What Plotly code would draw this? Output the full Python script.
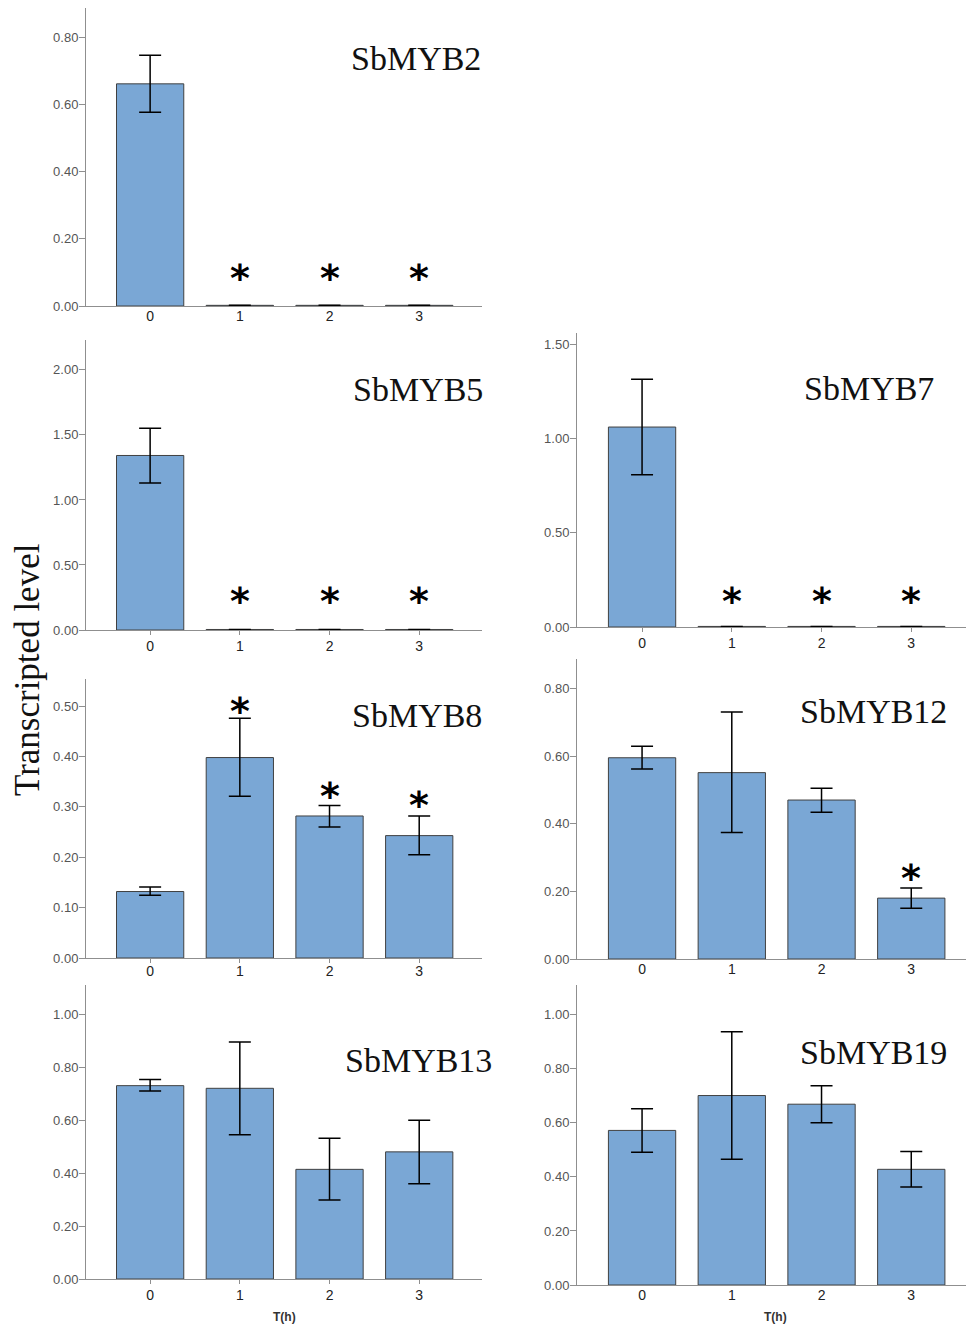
import plotly.graph_objects as go

# target picture is 966x1325; the capture maps a 1333 px tall page onto it,
# so the figure is laid out in 1325-px reference units but drawn 1333 px tall.
REF_W, REF_H = 966, 1325
W, H = 966, 1333

hours = [0, 1, 2, 3]
hour_labels = ["0", "1", "2", "3"]

genes = ["SbMYB2", "SbMYB5", "SbMYB7", "SbMYB8", "SbMYB12", "SbMYB13", "SbMYB19"]

mean_myb2 = [0.662, 0.002, 0.002, 0.002]
upper_myb2 = [0.747, 0.002, 0.002, 0.002]
lower_myb2 = [0.577, 0.002, 0.002, 0.002]
star_myb2 = [None, 0.102, 0.102, 0.102]

mean_myb5 = [1.342, 0.004, 0.004, 0.004]
upper_myb5 = [1.551, 0.004, 0.004, 0.004]
lower_myb5 = [1.130, 0.004, 0.004, 0.004]
star_myb5 = [None, 0.268, 0.268, 0.268]

mean_myb7 = [1.061, 0.003, 0.003, 0.003]
upper_myb7 = [1.314, 0.003, 0.003, 0.003]
lower_myb7 = [0.808, 0.003, 0.003, 0.003]
star_myb7 = [None, 0.168, 0.168, 0.168]

mean_myb8 = [0.132, 0.398, 0.282, 0.243]
upper_myb8 = [0.141, 0.476, 0.303, 0.282]
lower_myb8 = [0.1245, 0.321, 0.260, 0.205]
star_myb8 = [None, 0.503, 0.333, 0.315]

mean_myb12 = [0.595, 0.551, 0.470, 0.180]
upper_myb12 = [0.629, 0.730, 0.505, 0.210]
lower_myb12 = [0.562, 0.374, 0.434, 0.150]
star_myb12 = [None, None, None, 0.256]

mean_myb13 = [0.730, 0.720, 0.414, 0.480]
upper_myb13 = [0.753, 0.895, 0.531, 0.599]
lower_myb13 = [0.710, 0.545, 0.298, 0.360]
star_myb13 = [None, None, None, None]

mean_myb19 = [0.572, 0.701, 0.669, 0.428]
upper_myb19 = [0.652, 0.937, 0.737, 0.494]
lower_myb19 = [0.491, 0.465, 0.600, 0.363]
star_myb19 = [None, None, None, None]

y_tops = [0.888, 2.23, 1.56, 0.554, 0.887, 1.11, 1.11]
y_dticks = [0.2, 0.5, 0.5, 0.1, 0.2, 0.2, 0.2]

panels = [
    (mean_myb2, upper_myb2, lower_myb2, star_myb2),
    (mean_myb5, upper_myb5, lower_myb5, star_myb5),
    (mean_myb7, upper_myb7, lower_myb7, star_myb7),
    (mean_myb8, upper_myb8, lower_myb8, star_myb8),
    (mean_myb12, upper_myb12, lower_myb12, star_myb12),
    (mean_myb13, upper_myb13, lower_myb13, star_myb13),
    (mean_myb19, upper_myb19, lower_myb19, star_myb19),
]

# layout geometry in reference pixels: (left, right, top, bottom)
px_boxes = [
    (86, 482, 8, 306),
    (86, 482, 340, 630),
    (577, 966, 333, 627),
    (86, 482, 679, 958),
    (577, 966, 659, 959),
    (86, 482, 985, 1279),
    (577, 966, 985, 1285),
]
x_ranges = [(-0.715, 3.70), (-0.715, 3.70), (-0.725, 3.61), (-0.715, 3.70),
            (-0.725, 3.61), (-0.715, 3.70), (-0.725, 3.61)]
x_ticklen = [0, 4, 4, 4, 0, 4, 0]
x_label_standoff = [-3, -1, -1, -4, -3, -1, -3]
title_pos = [(416, 58), (418, 390), (869, 388), (417, 715), (873, 712), (418, 1060), (873, 1052)]


def px_x(x):
    return x / REF_W


def px_y(y):
    return 1 - y / REF_H


BAR = "#7AA7D5"
AXIS = "#8f8f8f"
NARROW = "Liberation Sans Narrow, Arial Narrow, Liberation Sans, Arial"

fig = go.Figure()
annotations = []
layout = dict(
    width=W, height=H, autosize=False,
    margin=dict(l=0, r=0, t=0, b=0),
    paper_bgcolor="white", plot_bgcolor="white",
    showlegend=False,
)

for i, (gene, (m, up, lo, st)) in enumerate(zip(genes, panels)):
    k = i + 1
    xa = "x" if k == 1 else f"x{k}"
    ya = "y" if k == 1 else f"y{k}"
    err_plus = [u - v for u, v in zip(up, m)]
    err_minus = [v - l for v, l in zip(m, lo)]
    fig.add_trace(go.Bar(
        x=hours, y=m, width=0.75, xaxis=xa, yaxis=ya,
        marker=dict(color=BAR, line=dict(color="#404040", width=1)),
        error_y=dict(type="data", symmetric=False, array=err_plus, arrayminus=err_minus,
                     color="black", thickness=1.5, width=11),
        hoverinfo="skip",
    ))
    l, r, t, b = px_boxes[i]
    layout["xaxis" if k == 1 else f"xaxis{k}"] = dict(
        domain=[px_x(l), min(1.0, px_x(r))], anchor=ya, range=list(x_ranges[i]),
        tickmode="array", tickvals=hours, ticktext=hour_labels,
        showline=True, linecolor=AXIS, linewidth=1,
        ticks="outside" if x_ticklen[i] else "", ticklen=max(x_ticklen[i], 1), tickcolor=AXIS,
        ticklabelstandoff=x_label_standoff[i],
        showgrid=False, zeroline=False,
        tickfont=dict(family=NARROW, size=14, color="#222222"),
        fixedrange=True,
    )
    layout["yaxis" if k == 1 else f"yaxis{k}"] = dict(
        domain=[px_y(b), px_y(t)], anchor=xa, range=[0, y_tops[i]],
        tick0=0, dtick=y_dticks[i], tickformat=".2f",
        showline=True, linecolor=AXIS, linewidth=1,
        ticks="outside", ticklen=6, tickcolor=AXIS,
        ticklabelstandoff=-2,
        showgrid=False, zeroline=False,
        tickfont=dict(family=NARROW, size=13, color="#555555"),
        fixedrange=True,
    )
    tx, ty = title_pos[i]
    annotations.append(dict(
        text=gene, xref="paper", yref="paper", x=px_x(tx), y=px_y(ty),
        xanchor="center", yanchor="middle", showarrow=False,
        font=dict(family="Liberation Serif, Times New Roman", size=34, color="#111111"),
    ))
    for h, s in zip(hours, st):
        if s is not None:
            annotations.append(dict(
                text="*", xref=xa, yref=ya, x=h, y=s,
                xanchor="center", yanchor="middle", showarrow=False, yshift=-6,
                font=dict(family="DejaVu Sans", size=38, color="black", weight="bold"),
            ))

annotations.append(dict(
    text="Transcripted level", xref="paper", yref="paper", x=px_x(27), y=px_y(670),
    xanchor="center", yanchor="middle", textangle=-90, showarrow=False,
    font=dict(family="Liberation Serif, Times New Roman", size=35, color="#111111"),
))
for tx in (284, 775):
    annotations.append(dict(
        text="<b>T(h)</b>", xref="paper", yref="paper", x=px_x(tx), y=px_y(1317),
        xanchor="center", yanchor="middle", showarrow=False,
        font=dict(family=NARROW, size=12, color="#333333"),
    ))

layout["annotations"] = annotations
fig.update_layout(**layout)

post = "document.body.style.margin='0px';"
fig.write_html("out.html", config={"displayModeBar": False}, post_script=post)
